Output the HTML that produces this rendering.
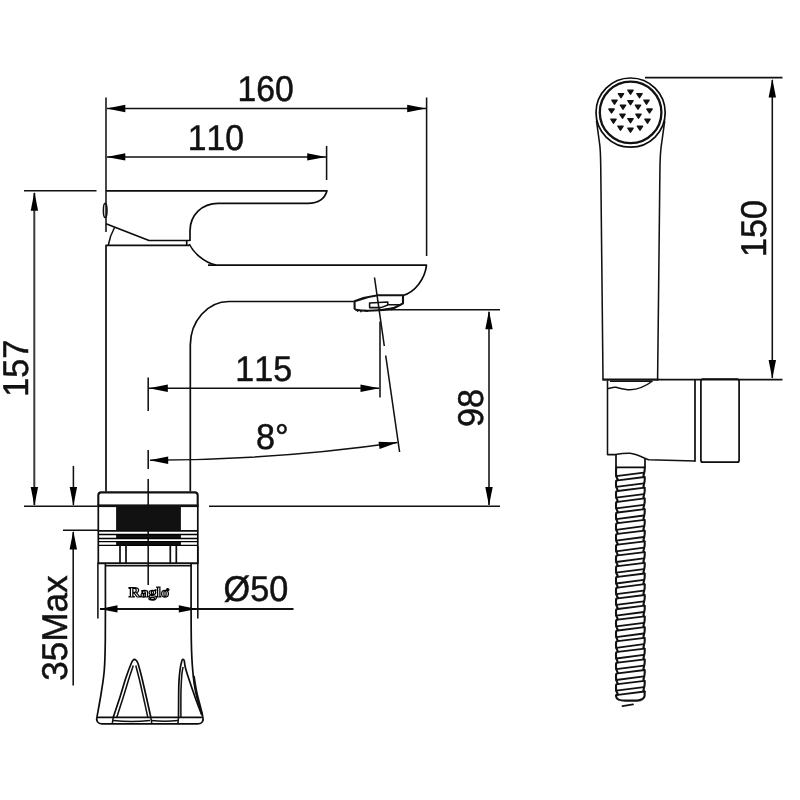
<!DOCTYPE html>
<html lang="en">
<head>
<meta charset="utf-8">
<title>Faucet dimensions</title>
<style>
html,body{margin:0;padding:0;background:#fff;}
body{width:800px;height:800px;overflow:hidden;}
svg{display:block;will-change:transform;}
.l{fill:none;stroke:#111;stroke-width:1.55;stroke-linecap:butt;stroke-linejoin:round;}
.b{fill:none;stroke:#0c0c0c;stroke-width:1.7;stroke-linecap:butt;stroke-linejoin:round;}
.b2{fill:none;stroke:#111;stroke-width:2.1;stroke-linecap:butt;stroke-linejoin:round;}
.b3{fill:none;stroke:#111;stroke-width:2.3;}
.h{fill:none;stroke:#111;stroke-width:1.8;stroke-linecap:round;}
.h2{fill:none;stroke:#111;stroke-width:2.1;stroke-linecap:round;stroke-linejoin:round;}
.g{fill:none;stroke:#3a3a3a;stroke-width:2;}
.tl{fill:none;stroke:#000;stroke-width:1.3;}
.reg{font-size:4px;fill:#000;stroke-width:0.5;}
.a{fill:#000;stroke:none;}
.hole{fill:#111;stroke:#111;stroke-width:1.5;stroke-linejoin:round;}
.k{fill:#111;stroke:none;}
.t{font-family:"Liberation Sans",Arial,Helvetica,sans-serif;font-size:35.8px;fill:#111;stroke:#111;stroke-width:0.5;text-rendering:geometricPrecision;font-kerning:none;}
.logo{font-family:"Liberation Serif","Times New Roman",serif;font-weight:bold;font-size:14.3px;fill:#fff;stroke:#000;stroke-width:1.15;text-rendering:geometricPrecision;}
</style>
</head>
<body>
<svg width="800" height="800" viewBox="0 0 800 800">
<rect x="0" y="0" width="800" height="800" fill="#fff"/>
<g id="dims">
<line class="l" x1="106" y1="97.5" x2="106" y2="232"/>
<line class="l" x1="426.6" y1="97.5" x2="426.6" y2="256"/>
<line class="l" x1="326.6" y1="146" x2="326.6" y2="180"/>
<line class="l" x1="107" y1="108.5" x2="426" y2="108.5"/>
<polygon class="a" points="106.5,108.5 125.3,104.8 125.3,112.2"/>
<polygon class="a" points="426.0,108.5 407.2,104.8 407.2,112.2"/>
<line class="l" x1="107" y1="156.9" x2="326" y2="156.9"/>
<polygon class="a" points="106.5,156.9 125.3,153.2 125.3,160.6"/>
<polygon class="a" points="326.0,156.9 307.2,153.2 307.2,160.6"/>
<line class="l" x1="24" y1="190.7" x2="96.5" y2="190.7"/>
<line class="l" x1="24" y1="506.3" x2="97.5" y2="506.3"/>
<line class="g" x1="34.3" y1="193" x2="34.3" y2="505"/>
<polygon class="a" points="34.4,192.0 30.7,210.8 38.1,210.8"/>
<polygon class="a" points="34.4,505.8 30.7,487.0 38.1,487.0"/>
<line class="l" x1="73.4" y1="466" x2="73.4" y2="505"/>
<polygon class="a" points="73.4,505.8 69.7,487.0 77.1,487.0"/>
<line class="l" x1="63" y1="530.2" x2="98" y2="530.2"/>
<line class="l" x1="73.2" y1="532" x2="73.2" y2="685.5"/>
<polygon class="a" points="73.3,530.8 69.6,549.6 77.0,549.6"/>
<line class="l" x1="209" y1="506.3" x2="500" y2="506.3"/>
<line class="l" x1="391" y1="309.8" x2="500" y2="309.8"/>
<line class="l" x1="489" y1="312" x2="489" y2="505"/>
<polygon class="a" points="489.0,310.5 485.3,329.3 492.7,329.3"/>
<polygon class="a" points="489.0,505.8 485.3,487.0 492.7,487.0"/>
<line class="l" x1="149" y1="388.2" x2="379" y2="388.2"/>
<polygon class="a" points="149.0,388.2 167.8,384.5 167.8,391.9"/>
<polygon class="a" points="379.3,388.2 360.5,384.5 360.5,391.9"/>
<line class="l" x1="380" y1="321.5" x2="380" y2="397.5"/>
<path class="l" d="M374.5 277.5 L384.3 346 M385.7 355.5 L399.6 452"/>
<path class="l" d="M150 460.2 A1750 1750 0 0 0 397.4 442.5"/>
<polygon class="a" points="149.4,460.2 168.2,456.5 168.2,463.9"/>
<polygon class="a" points="397.6,442.5 379.6,449.0 378.5,441.7"/>
<path class="l" d="M148.2 377.5 V411 M148.2 450 V469 M148.2 479 V585"/>
<line class="b2" x1="100" y1="609" x2="293.5" y2="609"/>
<polygon class="a" points="99.5,608.9 117.5,605.3 117.5,612.5"/>
<polygon class="a" points="196.8,608.9 178.8,605.3 178.8,612.5"/>
<line class="l" x1="97.9" y1="563" x2="97.9" y2="618.5"/>
<line class="l" x1="197.8" y1="546" x2="197.8" y2="618.5"/>
</g>
<g id="dims2">
<line class="l" x1="645" y1="77.6" x2="782.5" y2="77.6"/>
<line class="l" x1="657" y1="379.6" x2="782.5" y2="379.6"/>
<line class="l" x1="772.3" y1="80" x2="772.3" y2="378"/>
<polygon class="a" points="772.3,78.8 768.6,97.6 776.0,97.6"/>
<polygon class="a" points="772.3,378.8 768.6,360.0 776.0,360.0"/>
</g>
<g id="faucet">
<path class="b" d="M106 190.8 H327 Q323.5 203.3 308 203.3 H218 C202 203.3 190 215 190 231 V241"/>
<path class="b" d="M189.3 244 C193 252 203 262 216 265.2"/>
<path class="b" d="M106 223.7 L149 240.5 H190"/>
<path class="l" d="M114.8 227 C111.5 233 109.3 239 108.3 245"/>
<ellipse class="l" cx="105.2" cy="210.4" rx="1.8" ry="7.2"/>
<path class="b" d="M106 491.5 V245.4 H189.5 M186.7 240.5 V245.4"/>
<path class="b" d="M208 265.2 H426.5 C425 279 415 292 403 295.5"/>
<path class="b" d="M355 301.5 H229 A38.7 43.7 0 0 0 190.3 345 V491.5"/>
<path class="b2" d="M354.6 301.2 C362 298.3 370 296.3 378 295.3 H403 V303.3 L398 306 L391 309.5 L379 310.3 C370 311 362 311 356 309.8 L354.6 308.4 Z"/>
<path class="l" d="M369.6 303 L387.8 302 V305 L381 307.6 H369.6 Z M387.8 304.8 H401"/>
<path class="l" d="M357 309.5 l0.8 2.2 M360.5 310.2 l0.8 2 M364 310.5 l4 0.8 M380 310 l14 -2.2"/>
<path class="b2" d="M98.3 505.5 V495.3 Q98.3 492.4 101.3 492.4 H194.7 Q197.7 492.4 197.7 495.3 V505.5"/>
<rect class="k" x="97.4" y="504.4" width="101.2" height="2.7"/>
<rect class="k" x="116.1" y="506" width="64.8" height="24.2"/>
<path class="b" d="M98.3 505.5 V563.2 M197.8 505.5 V563.2"/>
<line class="b" x1="98.3" y1="530.8" x2="197.7" y2="530.8"/>
<rect class="k" x="116.1" y="534" width="64.8" height="4.8"/>
<rect class="k" x="116.1" y="541" width="64.8" height="4.4"/>
<path class="tl" d="M98.3 534.5 H197.7 M98.3 538.5 H197.7 M98.3 541.6 H197.7 M98.3 545.4 H197.7"/>
<line class="b" x1="120" y1="545" x2="120" y2="563"/>
<line class="b" x1="126" y1="545" x2="126" y2="563"/>
<line class="b" x1="170.3" y1="545" x2="170.3" y2="563"/>
<line class="b" x1="176.3" y1="545" x2="176.3" y2="563"/>
<line class="b2" x1="97.6" y1="563.2" x2="198.5" y2="563.2"/>
<line class="l" x1="105.2" y1="565.8" x2="191.3" y2="565.8"/>
<path class="b" d="M105.4 563.0 C105.4 575.8 105.5 622.2 105.3 640.0 C105.1 657.8 105.0 661.2 104.3 670.0 C103.6 678.8 102.5 684.7 101.3 692.5 C100.1 700.3 97.7 712.8 97.0 716.8"/>
<path class="b" d="M191.1 563.0 C191.1 575.8 191.0 622.2 191.3 640.0 C191.6 657.8 191.9 661.2 192.7 670.0 C193.4 678.8 194.1 684.7 195.8 692.5 C197.5 700.3 201.6 712.8 202.8 716.8"/>
<path class="b2" d="M193.8 676.0 C194.2 678.7 195.5 687.2 196.5 692.0 C197.5 696.8 198.8 701.2 199.8 705.0 C200.8 708.8 201.9 713.3 202.3 715.0"/>
<path class="b" d="M97 717.4 H203.2 M97 716.8 C95.8 721 97.8 723.8 102 723.8 H198 C202 723.8 204 721 202.8 716.8"/>
<path class="l" d="M113 720.5 Q132 722.5 150 720.5 M151 720.5 Q165 722 178 720.5"/>
<path class="b" d="M113.2 717.3 C114.3 713.9 117.9 703.6 120.0 697.0 C122.1 690.4 124.1 683.1 126.0 677.5 C127.9 671.9 130.0 666.4 131.2 663.5 C132.4 660.6 132.4 660.9 133.0 660.2 C133.6 659.5 134.0 659.3 134.5 659.3 C135.0 659.3 135.4 659.5 136.0 660.2 C136.6 660.9 137.0 660.6 138.0 663.5 C139.0 666.4 140.3 671.4 141.8 677.5 C143.3 683.6 145.5 693.4 147.0 700.0 C148.5 706.6 150.2 714.4 150.8 717.3"/>
<path class="l" d="M116.8 717.3 C117.8 714.1 121.0 704.2 123.0 698.0 C125.0 691.8 126.8 685.4 128.5 680.0 C130.2 674.6 132.5 667.9 133.3 665.5"/>
<path class="l" d="M135.8 665.5 C136.4 667.9 138.1 674.2 139.5 680.0 C140.9 685.8 142.6 693.8 144.0 700.0 C145.4 706.2 147.2 714.4 147.8 717.3"/>
<path class="b" d="M178.5 717.3 C178.6 711.9 178.6 692.9 178.8 685.0 C179.1 677.1 179.5 674.0 180.0 670.0 C180.5 666.0 181.3 662.8 181.8 661.0 C182.3 659.2 182.6 659.3 183.0 659.3 C183.4 659.3 183.8 659.2 184.3 661.0 C184.8 662.8 184.2 664.0 186.0 670.0 C187.8 676.0 192.4 689.5 195.0 697.0 C197.6 704.5 200.7 712.0 201.8 715.0"/>
<path class="l" d="M180.9 717.3 C180.9 712.8 180.8 697.0 181.0 690.0 C181.2 683.0 181.5 678.8 181.8 675.0 C182.1 671.2 182.8 668.3 183.0 667.0"/>
<path class="l" d="M112.3 723.5 L113.2 717.3 M150.8 717.3 L151.8 723.5 M178.5 717.3 L178 723.5"/>
</g>
<g id="shower">
<circle class="b" cx="630.6" cy="112.6" r="34.6"/>
<circle class="b3" cx="630.6" cy="112.4" r="30.8"/>
<path class="hole" d="M627.9 100.7 h5.2 l-2.6 3.9 z"/>
<path class="hole" d="M620.4 105.2 h5.2 l-2.6 3.9 z"/>
<path class="hole" d="M635.4 105.2 h5.2 l-2.6 3.9 z"/>
<path class="hole" d="M619.9 114.2 h5.2 l-2.6 3.9 z"/>
<path class="hole" d="M635.9 114.2 h5.2 l-2.6 3.9 z"/>
<path class="hole" d="M627.9 118.7 h5.2 l-2.6 3.9 z"/>
<path class="hole" d="M627.9 90.2 h5.2 l-2.6 3.9 z"/>
<path class="hole" d="M618.4 93.7 h5.2 l-2.6 3.9 z"/>
<path class="hole" d="M636.9 93.7 h5.2 l-2.6 3.9 z"/>
<path class="hole" d="M611.9 100.2 h5.2 l-2.6 3.9 z"/>
<path class="hole" d="M643.9 100.2 h5.2 l-2.6 3.9 z"/>
<path class="hole" d="M608.9 109.0 h5.2 l-2.6 3.9 z"/>
<path class="hole" d="M646.9 109.0 h5.2 l-2.6 3.9 z"/>
<path class="hole" d="M610.9 119.2 h5.2 l-2.6 3.9 z"/>
<path class="hole" d="M644.9 119.2 h5.2 l-2.6 3.9 z"/>
<path class="hole" d="M617.9 126.2 h5.2 l-2.6 3.9 z"/>
<path class="hole" d="M637.4 126.2 h5.2 l-2.6 3.9 z"/>
<path class="hole" d="M627.9 128.2 h5.2 l-2.6 3.9 z"/>
<path class="l" d="M596.5 121.0 C596.6 122.1 597.0 124.4 597.4 127.6 C597.8 130.8 598.6 136.3 599.1 140.0 C599.6 143.7 600.0 145.8 600.2 150.0 C600.5 154.2 600.6 158.3 600.7 165.0 C600.8 171.7 600.6 154.2 601.0 190.0 C601.4 225.8 602.7 347.9 603.0 379.5"/>
<path class="l" d="M664.7 121.0 C664.6 122.1 664.2 124.4 663.8 127.6 C663.4 130.8 662.6 136.3 662.1 140.0 C661.6 143.7 661.1 146.3 660.8 150.0 C660.4 153.7 660.3 155.3 660.1 162.0 C659.9 168.7 660.1 153.8 659.7 190.0 C659.3 226.2 658.0 347.9 657.6 379.5"/>
<line class="b2" x1="602.3" y1="379.6" x2="658.3" y2="379.6"/>
<path class="l" d="M607.5 380.5 V454.6 H615.4 C621 453.6 626 453.1 630 453.3 C637 453.9 643 457.8 648.7 459.8 L695 461"/>
<path class="l" d="M607.5 388.5 C610 388.3 613 386.8 616 387.3 C621 388.5 625 389.8 630 389.7 C638 389.5 646 386 652.5 381"/>
<path class="l" d="M610 381.3 H652"/>
<line class="b" x1="695" y1="379.6" x2="695" y2="461.8"/>
<rect class="b" x="700.9" y="379.2" width="38.2" height="83" rx="2"/>
<path class="b" d="M616 454.6 V467.4 H645 V458.8"/>
<path class="h" d="M616.2 476.2 L643.8 472.6 M617.8 480.3 L644.6 477.0 M616.2 486.9 L643.8 483.3 M617.8 491.0 L644.6 487.7 M616.2 497.6 L643.8 494.1 M617.8 501.8 L644.6 498.4 M616.2 508.4 L643.8 504.8 M617.8 512.5 L644.6 509.2 M616.2 519.1 L643.8 515.5 M617.8 523.2 L644.6 519.9 M616.2 529.8 L643.8 526.2 M617.8 533.9 L644.6 530.6 M616.2 540.6 L643.8 537.0 M617.8 544.7 L644.6 541.4 M616.2 551.3 L643.8 547.7 M617.8 555.4 L644.6 552.1 M616.2 562.0 L643.8 558.4 M617.8 566.1 L644.6 562.8 M616.2 572.7 L643.8 569.1 M617.8 576.8 L644.6 573.5 M616.2 583.5 L643.8 579.9 M617.8 587.6 L644.6 584.2 M616.2 594.2 L643.8 590.6 M617.8 598.3 L644.6 595.0 M616.2 604.9 L643.8 601.3 M617.8 609.0 L644.6 605.7 M616.2 615.6 L643.8 612.0 M617.8 619.7 L644.6 616.4 M616.2 626.4 L643.8 622.8 M617.8 630.5 L644.6 627.1 M616.2 637.1 L643.8 633.5 M617.8 641.2 L644.6 637.9 M616.2 647.8 L643.8 644.2 M617.8 651.9 L644.6 648.6 M616.2 658.5 L643.8 654.9 M617.8 662.6 L644.6 659.3 M616.2 669.2 L643.8 665.6 M617.8 673.4 L644.6 670.0 M616.2 680.0 L643.8 676.4 M617.8 684.1 L644.6 680.8 M616.2 690.7 L643.8 687.1 M617.8 694.8 L644.6 691.5"/>
<path class="h2" d="M616.2 467.4 Q615.8 471.8 616.2 476.2 M644.6 467.4 Q645.0 470.0 644.2 472.6 M616.2 476.2 L617.8 479.8 L616.2 480.9 M644.2 472.6 L643.4 476.0 L644.6 477.3 M616.2 480.9 Q615.8 483.9 616.2 486.9 M644.6 477.3 Q645.0 480.3 644.2 483.3 M616.2 486.9 L617.8 490.5 L616.2 491.6 M644.2 483.3 L643.4 486.7 L644.6 488.0 M616.2 491.6 Q615.8 494.6 616.2 497.6 M644.6 488.0 Q645.0 491.0 644.2 494.1 M616.2 497.6 L617.8 501.2 L616.2 502.4 M644.2 494.1 L643.4 497.4 L644.6 498.8 M616.2 502.4 Q615.8 505.4 616.2 508.4 M644.6 498.8 Q645.0 501.8 644.2 504.8 M616.2 508.4 L617.8 512.0 L616.2 513.1 M644.2 504.8 L643.4 508.2 L644.6 509.5 M616.2 513.1 Q615.8 516.1 616.2 519.1 M644.6 509.5 Q645.0 512.5 644.2 515.5 M616.2 519.1 L617.8 522.7 L616.2 523.8 M644.2 515.5 L643.4 518.9 L644.6 520.2 M616.2 523.8 Q615.8 526.8 616.2 529.8 M644.6 520.2 Q645.0 523.2 644.2 526.2 M616.2 529.8 L617.8 533.4 L616.2 534.5 M644.2 526.2 L643.4 529.6 L644.6 530.9 M616.2 534.5 Q615.8 537.5 616.2 540.6 M644.6 530.9 Q645.0 533.9 644.2 537.0 M616.2 540.6 L617.8 544.2 L616.2 545.3 M644.2 537.0 L643.4 540.4 L644.6 541.6 M616.2 545.3 Q615.8 548.3 616.2 551.3 M644.6 541.6 Q645.0 544.7 644.2 547.7 M616.2 551.3 L617.8 554.9 L616.2 556.0 M644.2 547.7 L643.4 551.1 L644.6 552.4 M616.2 556.0 Q615.8 559.0 616.2 562.0 M644.6 552.4 Q645.0 555.4 644.2 558.4 M616.2 562.0 L617.8 565.6 L616.2 566.7 M644.2 558.4 L643.4 561.8 L644.6 563.1 M616.2 566.7 Q615.8 569.7 616.2 572.7 M644.6 563.1 Q645.0 566.1 644.2 569.1 M616.2 572.7 L617.8 576.3 L616.2 577.4 M644.2 569.1 L643.4 572.5 L644.6 573.8 M616.2 577.4 Q615.8 580.4 616.2 583.5 M644.6 573.8 Q645.0 576.8 644.2 579.9 M616.2 583.5 L617.8 587.1 L616.2 588.2 M644.2 579.9 L643.4 583.2 L644.6 584.5 M616.2 588.2 Q615.8 591.2 616.2 594.2 M644.6 584.5 Q645.0 587.6 644.2 590.6 M616.2 594.2 L617.8 597.8 L616.2 598.9 M644.2 590.6 L643.4 594.0 L644.6 595.3 M616.2 598.9 Q615.8 601.9 616.2 604.9 M644.6 595.3 Q645.0 598.3 644.2 601.3 M616.2 604.9 L617.8 608.5 L616.2 609.6 M644.2 601.3 L643.4 604.7 L644.6 606.0 M616.2 609.6 Q615.8 612.6 616.2 615.6 M644.6 606.0 Q645.0 609.0 644.2 612.0 M616.2 615.6 L617.8 619.2 L616.2 620.3 M644.2 612.0 L643.4 615.4 L644.6 616.7 M616.2 620.3 Q615.8 623.3 616.2 626.4 M644.6 616.7 Q645.0 619.7 644.2 622.8 M616.2 626.4 L617.8 630.0 L616.2 631.1 M644.2 622.8 L643.4 626.1 L644.6 627.4 M616.2 631.1 Q615.8 634.1 616.2 637.1 M644.6 627.4 Q645.0 630.5 644.2 633.5 M616.2 637.1 L617.8 640.7 L616.2 641.8 M644.2 633.5 L643.4 636.9 L644.6 638.2 M616.2 641.8 Q615.8 644.8 616.2 647.8 M644.6 638.2 Q645.0 641.2 644.2 644.2 M616.2 647.8 L617.8 651.4 L616.2 652.5 M644.2 644.2 L643.4 647.6 L644.6 648.9 M616.2 652.5 Q615.8 655.5 616.2 658.5 M644.6 648.9 Q645.0 651.9 644.2 654.9 M616.2 658.5 L617.8 662.1 L616.2 663.2 M644.2 654.9 L643.4 658.3 L644.6 659.6 M616.2 663.2 Q615.8 666.2 616.2 669.2 M644.6 659.6 Q645.0 662.6 644.2 665.6 M616.2 669.2 L617.8 672.9 L616.2 674.0 M644.2 665.6 L643.4 669.0 L644.6 670.3 M616.2 674.0 Q615.8 677.0 616.2 680.0 M644.6 670.3 Q645.0 673.4 644.2 676.4 M616.2 680.0 L617.8 683.6 L616.2 684.7 M644.2 676.4 L643.4 679.8 L644.6 681.1 M616.2 684.7 Q615.8 687.7 616.2 690.7 M644.6 681.1 Q645.0 684.1 644.2 687.1 M616.2 690.7 L617.8 694.3 L616.2 695.4 M644.2 687.1 L643.4 690.5 L644.6 691.8"/>
<path class="h2" d="M616.2 695.4 V697 C617.0 699.8 620 700.6 625 700.6 H637 C641.5 700.3 644 699 644.6 696 V691.8"/>
<path class="h" d="M622.5 706.2 L633 704.4"/>
</g>

<text class="t" transform="translate(265.6 101.2) scale(0.94 1)" text-anchor="middle">160</text>
<text class="t" transform="translate(215.9 149.8) scale(0.94 1)" text-anchor="middle">110</text>
<text class="t" transform="translate(263.7 381) scale(0.95 1)" text-anchor="middle">115</text>
<text class="t" transform="translate(272.4 449.2) scale(0.955 1)" text-anchor="middle">8°</text>
<text class="t" transform="translate(255.9 601.4) scale(0.955 1)" text-anchor="middle">Ø50</text>
<text class="t" transform="translate(28 368.3) rotate(-90) scale(0.955 1)" text-anchor="middle">157</text>
<text class="t" transform="translate(482.9 408) rotate(-90) scale(0.955 1)" text-anchor="middle">98</text>
<text class="t" transform="translate(765.7 228.4) rotate(-90) scale(0.955 1)" text-anchor="middle">150</text>
<text class="t" transform="translate(66.8 628.1) rotate(-90) scale(0.981 1)" text-anchor="middle">35Max</text>
<text class="logo" transform="translate(149.1 597.1) scale(1.12 1)" text-anchor="middle">Raglo<tspan class="reg" dx="-2.6" dy="-6.4">®</tspan></text>

</svg>
</body>
</html>
